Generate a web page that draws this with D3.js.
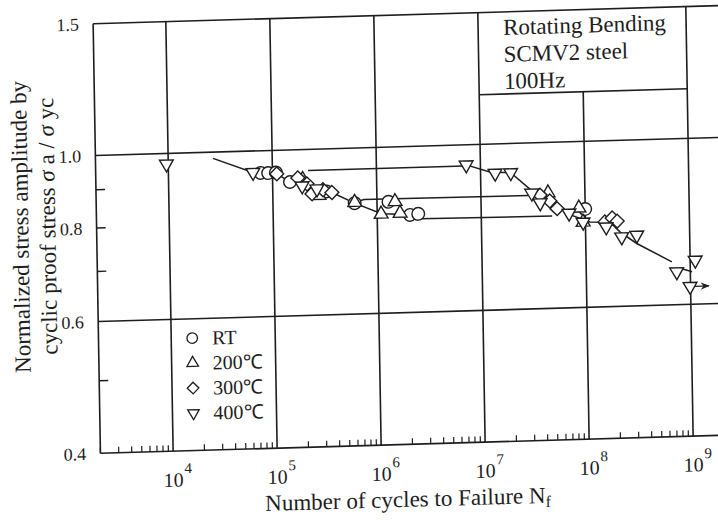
<!DOCTYPE html>
<html>
<head>
<meta charset="utf-8">
<script src="https://cdn.jsdelivr.net/npm/d3@7"></script>
<style>
body { margin: 0; background: #fff; }
text { font-family: "Liberation Serif", "Times New Roman", serif; fill: #1e1e1e; }
</style>
</head>
<body>
<svg id="chart" width="718" height="520"></svg>
<script>
'use strict';

// [cycles to failure, sigma_a / sigma_yc]
const rtPoints = [[7.7e4, 0.934], [9.1e4, 0.933], [1.08e5, 0.934], [1.47e5, 0.906], [3.3e5, 0.877],
    [6.1e5, 0.844], [1.29e6, 0.845], [2.07e6, 0.81], [2.48e6, 0.812], [1.0e8, 0.812]];
const t200Points = [[1.95e5, 0.912], [2.77e5, 0.867], [6.1e5, 0.846], [1.49e6, 0.845], [1.09e6, 0.814],
    [1.66e6, 0.815], [4.42e7, 0.856], [8.7e7, 0.815], [9.5e7, 0.78]];
const t300Points = [[1.1e5, 0.93], [1.75e5, 0.917], [2.14e5, 0.899], [2.38e5, 0.872], [3.04e5, 0.882],
    [3.7e5, 0.874], [3.7e7, 0.851], [4.58e7, 0.835], [5.37e7, 0.815], [1.54e8, 0.779],
    [1.81e8, 0.788], [2.02e8, 0.78]];
const t400Points = [[9.6e3, 0.968], [6.5e4, 0.936], [1.92e5, 0.894], [2.66e5, 0.885], [7.3e6, 0.94],
    [1.38e7, 0.914], [1.95e7, 0.914], [3.08e7, 0.857], [3.7e7, 0.831], [6.98e7, 0.803],
    [9.5e7, 0.78], [1.58e8, 0.767], [2.22e8, 0.743], [3.1e8, 0.746], [7.4e8, 0.664],
    [1.12e9, 0.687], [9.9e8, 0.634]];
const runout = [[1.1e9, 0.634], [1.5e9, 0.634]];

// S-N curve pieces
const mainCurve = [[2.7e4, 0.981], [6.5e4, 0.936], [1.08e5, 0.932], [1.47e5, 0.906], [2.4e5, 0.885],
    [3.7e5, 0.874], [6.1e5, 0.844], [1.1e6, 0.815], [2.5e6, 0.81]];
const step400 = [[2.2e5, 0.937], [7.0e6, 0.937]];
const step300 = [[6.1e5, 0.846], [7.5e5, 0.853], [2.84e7, 0.851]];
const stepRT = [[2.6e6, 0.80], [4.8e7, 0.797]];
const lowerCurve = [[7.3e6, 0.94], [1.23e7, 0.918], [1.95e7, 0.914], [3.18e7, 0.86], [7.0e7, 0.80],
    [1.1e8, 0.78], [1.73e8, 0.778], [2.15e8, 0.754], [3.09e8, 0.727], [6.67e8, 0.685]];
const tailCurve = [[8.0e8, 0.671], [1.04e9, 0.663]];

const decades = [4, 5, 6, 7, 8, 9];
const yLabels = [0.4, 0.6, 0.8, 1.0, 1.5];
const yMinor = [0.5, 0.7, 0.8, 0.9];
const yGrid = [0.6, 1.0];
const legendNames = ['RT', '200℃', '300℃', '400℃'];
const noteLines = ['Rotating Bending', 'SCMV2 steel', '100Hz'];

const ink = '#1e1e1e';
const boxBottom = 1.165;

const svg = d3.select('#chart');
// the scan is slightly skewed, so the whole drawing is too
const g = svg.append('g')
    .attr('transform', 'translate(400,260) matrix(1,-0.029,0.017,1,0,0) translate(-400,-260)');

const x = d3.scaleLog().domain([2e3, 3e9]).range([97.3, 739.6]);
const y = d3.scaleLog().domain([0.4, 1.5]).range([444.5, 15]);

const x0 = x.domain()[0], x1 = x.domain()[1];
const y0 = y.domain()[0], y1 = y.domain()[1];

function hline(v, a, b) {
    g.append('line')
        .attr('x1', x(a)).attr('x2', x(b))
        .attr('y1', y(v)).attr('y2', y(v))
        .attr('stroke', ink).attr('stroke-width', 1.6);
}
function vline(n, a, b) {
    g.append('line')
        .attr('x1', x(n)).attr('x2', x(n))
        .attr('y1', y(a)).attr('y2', y(b))
        .attr('stroke', ink).attr('stroke-width', 1.6);
}

// frame and grid
hline(y0, x0, x1);
hline(y1, x0, x1);
yGrid.forEach(v => hline(v, x0, x1));
vline(x0, y0, y1);
decades.forEach(k => vline(Math.pow(10, k), y0, k === 8 ? boxBottom : y1));
hline(boxBottom, 1e7, 1e9);

// minor ticks
const minorX = x.ticks().filter(n => Math.abs(Math.log10(n) % 1) > 1e-6);
g.selectAll('.xminor')
    .data(minorX)
    .enter().append('line')
    .attr('x1', d => x(d)).attr('x2', d => x(d))
    .attr('y1', y(y0)).attr('y2', y(y0) - 6)
    .attr('stroke', ink).attr('stroke-width', 1.2);

g.selectAll('.yminor')
    .data(yMinor)
    .enter().append('line')
    .attr('x1', x(x0)).attr('x2', x(x0) + 9)
    .attr('y1', d => y(d)).attr('y2', d => y(d))
    .attr('stroke', ink).attr('stroke-width', 1.4);

// tick labels
g.selectAll('.ylab')
    .data(yLabels)
    .enter().append('text')
    .attr('x', 83)
    .attr('y', d => y(d))
    .attr('dy', '0.35em')
    .attr('text-anchor', 'end')
    .attr('font-size', 18)
    .text(d => d.toFixed(1));

const xl = g.selectAll('.xlab')
    .data(decades)
    .enter().append('text')
    .attr('x', d => x(Math.pow(10, d)) - 10)
    .attr('y', 480)
    .attr('font-size', 20);
xl.append('tspan').text('10');
xl.append('tspan').attr('dy', -13).attr('dx', 1).attr('font-size', 15).text(d => d);

// axis titles
const xt = g.append('text')
    .attr('x', 404).attr('y', 507)
    .attr('text-anchor', 'middle')
    .attr('font-size', 23)
    .text('Number of cycles to Failure N');
xt.append('tspan').attr('font-size', 16).attr('dy', 4).text('f');

const yt = g.append('g').attr('transform', 'translate(29,216) rotate(-90)');
yt.append('text')
    .attr('text-anchor', 'middle')
    .attr('font-size', 23)
    .text('Normalized stress amplitude by');
const yt2 = yt.append('text')
    .attr('y', 27)
    .attr('text-anchor', 'middle')
    .attr('font-size', 23);
yt2.append('tspan').text('cyclic proof stress ');
yt2.append('tspan').attr('font-style', 'italic').text('σ');
yt2.append('tspan').text(' a / ');
yt2.append('tspan').attr('font-style', 'italic').text('σ');
yt2.append('tspan').text(' yc');

// note box text
g.selectAll('.note')
    .data(noteLines)
    .enter().append('text')
    .attr('x', x(1e7) + 25)
    .attr('y', (d, i) => 38 + i * 27)
    .attr('font-size', 23)
    .text(d => d);

// curves
const line = d3.line().x(d => x(d[0])).y(d => y(d[1]));
[mainCurve, step400, step300, stepRT, lowerCurve, tailCurve].forEach(c => {
    g.append('path')
        .attr('d', line(c))
        .attr('fill', 'none')
        .attr('stroke', ink)
        .attr('stroke-width', 1.5);
});

svg.append('defs').append('marker')
    .attr('id', 'arrow')
    .attr('viewBox', '0 0 10 10')
    .attr('refX', 9).attr('refY', 5)
    .attr('markerWidth', 9).attr('markerHeight', 7)
    .attr('orient', 'auto')
    .append('path').attr('d', 'M0,1 L10,5 L0,9 L3,5 Z').attr('fill', ink);
g.append('path')
    .attr('d', line(runout))
    .attr('fill', 'none')
    .attr('stroke', ink)
    .attr('stroke-width', 1.3)
    .attr('marker-end', 'url(#arrow)');

// markers
const shapes = {
    circle: { type: d3.symbolCircle, size: Math.PI * 6.3 * 6.3, rot: 0 },
    up: { type: d3.symbolTriangle, size: 82, rot: 0 },
    diamond: { type: d3.symbolSquare, size: 96, rot: 45 },
    down: { type: d3.symbolTriangle, size: 82, rot: 180 }
};
const series = [
    { pts: rtPoints, shape: 'circle' },
    { pts: t200Points, shape: 'up' },
    { pts: t300Points, shape: 'diamond' },
    { pts: t400Points, shape: 'down' }
];

series.forEach(s => {
    const sh = shapes[s.shape];
    g.selectAll('.m' + s.shape)
        .data(s.pts)
        .enter().append('path')
        .attr('d', d3.symbol().type(sh.type).size(sh.size))
        .attr('transform', d => `translate(${x(d[0])},${y(d[1])}) rotate(${sh.rot})`)
        .attr('fill', '#fff')
        .attr('stroke', ink)
        .attr('stroke-width', 1.4);
});

// legend
const lg = g.selectAll('.legend')
    .data(legendNames)
    .enter().append('g')
    .attr('transform', (d, i) => `translate(191,${339 + i * 25})`);
lg.append('path')
    .attr('d', (d, i) => {
        const sh = shapes[series[i].shape];
        return d3.symbol().type(sh.type).size(sh.size * 0.7)();
    })
    .attr('transform', (d, i) => `translate(0,-7) rotate(${shapes[series[i].shape].rot})`)
    .attr('fill', 'none')
    .attr('stroke', ink)
    .attr('stroke-width', 1.3);
lg.append('text')
    .attr('x', 20)
    .attr('font-size', 20)
    .text(d => d);
</script>
</body>
</html>
